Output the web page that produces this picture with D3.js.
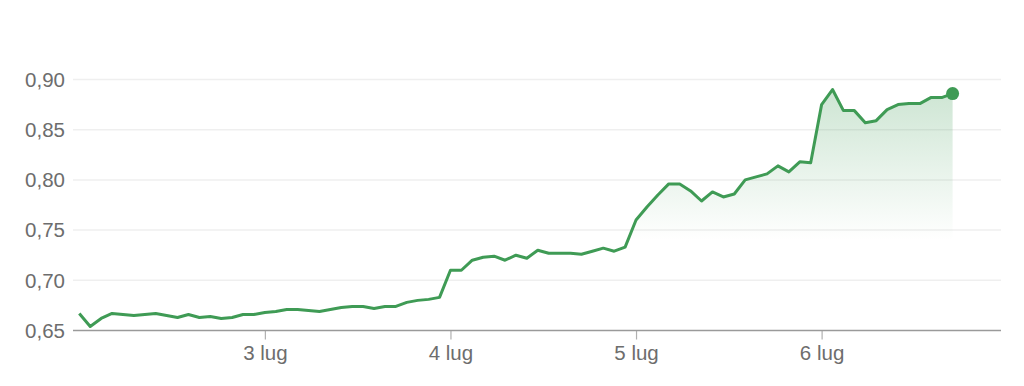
<!DOCTYPE html>
<html>
<head>
<meta charset="utf-8">
<script src="https://cdn.jsdelivr.net/npm/d3@7"></script>
<style>
  html, body { margin: 0; padding: 0; background: #fff; }
  svg { display: block; }
  text { font-family: "Liberation Sans", Arial, Helvetica, sans-serif; }
</style>
</head>
<body>
<svg id="chart" width="1024" height="386"></svg>
<script>
// ---- data ----
const prices = [
  0.667, 0.654, 0.662, 0.667, 0.666, 0.665, 0.666, 0.667, 0.665, 0.663,
  0.666, 0.663, 0.664, 0.662, 0.663, 0.666, 0.666, 0.668, 0.669, 0.671,
  0.671, 0.670, 0.669, 0.671, 0.673, 0.674, 0.674, 0.672, 0.674, 0.674,
  0.678, 0.680, 0.681, 0.683, 0.710, 0.710, 0.720, 0.723, 0.724, 0.720,
  0.725, 0.722, 0.730, 0.727, 0.727, 0.727, 0.726, 0.729, 0.732, 0.729,
  0.733, 0.760, 0.773, 0.785, 0.796, 0.796, 0.789, 0.779, 0.788, 0.783,
  0.786, 0.800, 0.803, 0.806, 0.814, 0.808, 0.818, 0.817, 0.875, 0.890,
  0.869, 0.869, 0.857, 0.859, 0.870, 0.875, 0.876, 0.876, 0.882, 0.882,
  0.886
];
const pointsPerDay = 17;              // samples per day on the x axis
const xTickIndex = [17, 34, 51, 68];  // sample index where each day starts
const xTickLabels = ["3 lug", "4 lug", "5 lug", "6 lug"];
const yTicks = [0.65, 0.70, 0.75, 0.80, 0.85, 0.90];
const yTickLabels = ["0,65", "0,70", "0,75", "0,80", "0,85", "0,90"];

// ---- layout ----
const green = "#3f9b55";
const svg = d3.select("#chart");
const plotLeft = 73, plotRight = 1001;

const x = d3.scaleLinear().domain([0, prices.length - 1]).range([79.3, 952.6]);
const y = d3.scaleLinear().domain([0.65, 0.90]).range([330.5, 79.5]);

// gradient
const defs = svg.append("defs");
const grad = defs.append("linearGradient")
  .attr("id", "areaGrad")
  .attr("gradientUnits", "userSpaceOnUse")
  .attr("x1", 0).attr("x2", 0)
  .attr("y1", y(0.89)).attr("y2", y(0.74));
grad.append("stop").attr("offset", 0).attr("stop-color", green).attr("stop-opacity", 0.26);
grad.append("stop").attr("offset", 1).attr("stop-color", green).attr("stop-opacity", 0.0);

// grid lines
svg.append("g")
  .selectAll("line")
  .data(yTicks.slice(1))
  .join("line")
  .attr("x1", plotLeft).attr("x2", plotRight)
  .attr("y1", d => y(d)).attr("y2", d => y(d))
  .attr("stroke", "#efefef")
  .attr("stroke-width", 1.5);

// y labels
svg.append("g")
  .selectAll("text")
  .data(yTicks)
  .join("text")
  .attr("x", 65)
  .attr("y", d => y(d))
  .attr("dy", "0.36em")
  .attr("text-anchor", "end")
  .attr("font-size", 20.5)
  .attr("fill", "#6d6d6d")
  .text((d, i) => yTickLabels[i]);

// area
const area = d3.area()
  .x((d, i) => x(i))
  .y0(y(0.65))
  .y1(d => y(d));
svg.append("path")
  .datum(prices)
  .attr("d", area)
  .attr("fill", "url(#areaGrad)");

// x axis
const xAxis = d3.axisBottom(x)
  .tickValues(xTickIndex)
  .tickFormat((d, i) => xTickLabels[i])
  .tickSize(9)
  .tickSizeOuter(0)
  .tickPadding(6);
const gx = svg.append("g")
  .attr("transform", `translate(0,${y(0.65)})`)
  .call(xAxis);
gx.select(".domain").remove();
gx.append("line")
  .attr("x1", plotLeft).attr("x2", plotRight)
  .attr("y1", 0).attr("y2", 0)
  .attr("stroke", "#9a9a9a").attr("stroke-width", 1.5);
gx.selectAll(".tick line").attr("stroke", "#b0b0b0").attr("stroke-width", 1.2);
gx.selectAll(".tick text")
  .attr("font-family", "Liberation Sans, Arial, sans-serif")
  .attr("font-size", 20.5)
  .attr("fill", "#6d6d6d");

// line
const line = d3.line()
  .x((d, i) => x(i))
  .y(d => y(d));
svg.append("path")
  .datum(prices)
  .attr("d", line)
  .attr("fill", "none")
  .attr("stroke", green)
  .attr("stroke-width", 3)
  .attr("stroke-linejoin", "round");

// end dot
svg.append("circle")
  .attr("cx", x(prices.length - 1))
  .attr("cy", y(prices[prices.length - 1]))
  .attr("r", 6.5)
  .attr("fill", green);
</script>
</body>
</html>
